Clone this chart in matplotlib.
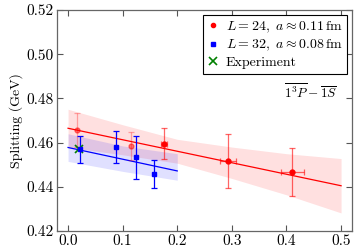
import numpy as np
import matplotlib
matplotlib.use("Agg")
import matplotlib.pyplot as plt

plt.rcParams['font.family'] = 'serif'
plt.rcParams['font.serif'] = ['cmr10']
plt.rcParams['mathtext.fontset'] = 'cm'
plt.rcParams['axes.formatter.use_mathtext'] = True

# L=24 ensemble (a ~ 0.11 fm)
x24 = [0.016, 0.115, 0.176, 0.293, 0.411]
x24_err = [0.0, 0.0, 0.006, 0.0146, 0.0204]
y24 = [0.4657, 0.4585, 0.4594, 0.4517, 0.4467]
y24_err = [0.0075, 0.0063, 0.0070, 0.0122, 0.0108]
faded24 = [True, True, False, False, False]

# L=32 ensemble (a ~ 0.08 fm)
x32 = [0.021, 0.088, 0.125, 0.157]
y32 = [0.4570, 0.4579, 0.4533, 0.4457]
y32_err = [0.0060, 0.0072, 0.0096, 0.0063]

# experiment
x_exp = [0.0195]
y_exp = [0.4572]

# fit lines and error bands
fit24_x = [0.0, 0.1, 0.2, 0.3, 0.4, 0.5]
fit24_y = [0.4665, 0.4613, 0.4561, 0.4509, 0.4457, 0.4405]
band24_hi = [0.4751, 0.4681, 0.4615, 0.4580, 0.4550, 0.4528]
band24_lo = [0.4579, 0.4545, 0.4507, 0.4438, 0.4364, 0.4282]

fit32_x = [0.0, 0.1, 0.2]
fit32_y = [0.4578, 0.4525, 0.4472]
band32_hi = [0.4640, 0.4585, 0.4550]
band32_lo = [0.4515, 0.4470, 0.4430]

fig = plt.figure(figsize=(3.57, 2.49), dpi=100)
ax = fig.add_axes([0.16, 0.072, 0.826, 0.888])

ax.fill_between(fit24_x, band24_lo, band24_hi, color='red', alpha=0.12, lw=0)
ax.plot(fit24_x, fit24_y, color='red', lw=0.9)
ax.fill_between(fit32_x, band32_lo, band32_hi, color='blue', alpha=0.12, lw=0)
ax.plot(fit32_x, fit32_y, color='blue', lw=0.9)

for i in range(len(x24)):
    a = 0.5 if faded24[i] else 1.0
    eb = ax.errorbar(x24[i], y24[i], yerr=y24_err[i],
                     xerr=x24_err[i] if x24_err[i] > 0 else None,
                     fmt='o', color='red', ms=3.5, capsize=2.5, elinewidth=0.9,
                     capthick=0.9, alpha=a)
    for b in eb[2]:
        b.set_alpha(0.6 * a)
    for c in eb[1]:
        c.set_alpha(0.6 * a)

eb = ax.errorbar(x32, y32, yerr=y32_err, fmt='s', color='blue', ms=3.5,
                 capsize=2.5, elinewidth=0.9, capthick=0.9)

ax.plot(x_exp, y_exp, 'x', color='green', ms=6, mew=1.2)

# legend proxies
h1, = ax.plot([], [], 'o', color='red', ms=3)
h2, = ax.plot([], [], 's', color='blue', ms=3)
h3, = ax.plot([], [], 'x', color='green', ms=6, mew=1.2)
leg = ax.legend([h1, h2, h3],
                [r'$L=24,\ a\approx 0.11\,\mathrm{fm}$',
                 r'$L=32,\ a\approx 0.08\,\mathrm{fm}$',
                 'Experiment'],
                loc='upper right', fontsize=10, fancybox=False,
                handlelength=0.8, handletextpad=0.5, borderpad=0.35,
                labelspacing=0.22, borderaxespad=0.35, framealpha=1)
leg.get_frame().set_edgecolor('black')
leg.get_frame().set_linewidth(0.8)

ax.text(0.95, 0.632, r'$\overline{1^3P} - \overline{1S}$', transform=ax.transAxes,
        ha='right', va='center', fontsize=9.5)

ax.set_xlim(-0.02, 0.52)
ax.set_ylim(0.42, 0.52)
ax.set_xticks([0.0, 0.1, 0.2, 0.3, 0.4, 0.5])
ax.set_yticks([0.42, 0.44, 0.46, 0.48, 0.50, 0.52])
ax.set_xticklabels(['0.0', '0.1', '0.2', '0.3', '0.4', '0.5'])
ax.set_yticklabels(['0.42', '0.44', '0.46', '0.48', '0.50', '0.52'])
ax.set_ylabel('Splitting (GeV)', fontsize=10, labelpad=2)
ax.tick_params(direction='in', top=True, right=True, length=4, width=0.8,
               color='#555555', labelsize=11, pad=2.5)
for s in ax.spines.values():
    s.set_color('#666666')
    s.set_linewidth(0.9)

fig.savefig('out.png', dpi=100)
